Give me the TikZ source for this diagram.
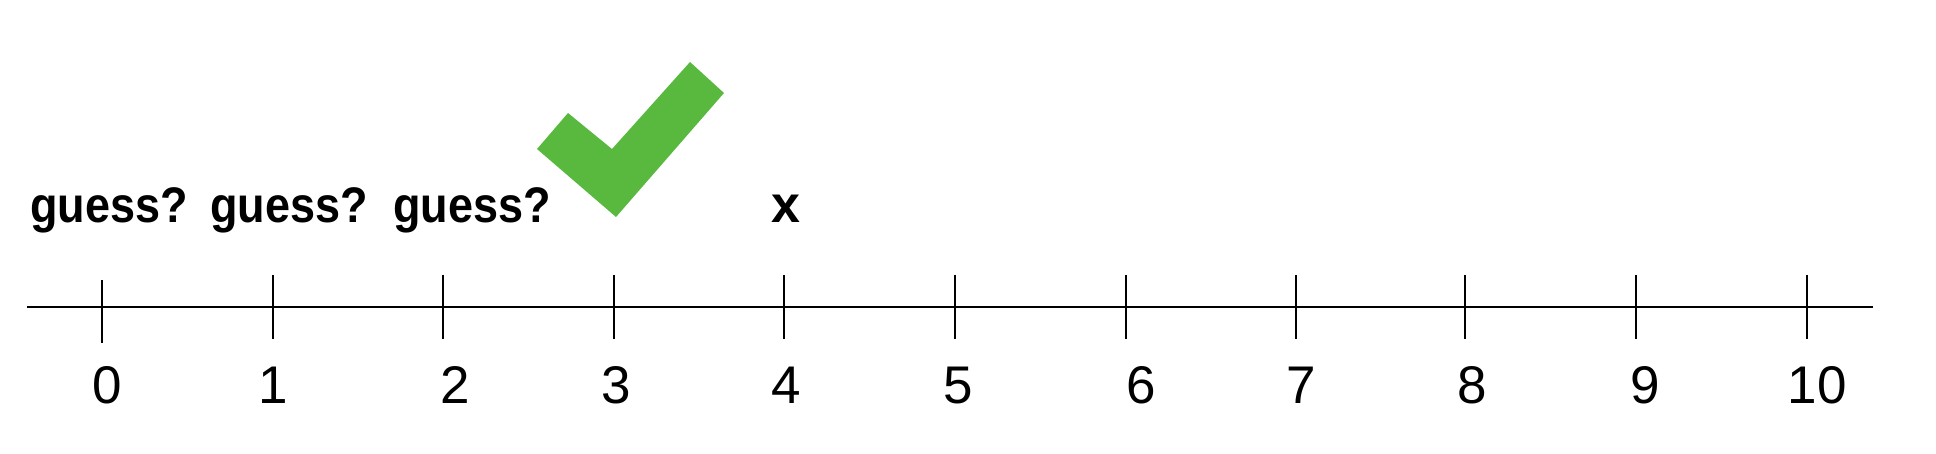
\documentclass[tikz,border=0pt]{standalone}
\usepackage{fontspec}
\setmainfont{Liberation Sans}
\definecolor{checkgreen}{HTML}{58B93E}
\tikzset{
  axisline/.style={line width=1.35pt, black},
  ticklab/.style={anchor=base, inner sep=0pt, font=\fontsize{26.5pt}{30pt}\selectfont},
  guesslab/.style={anchor=base west, inner sep=0pt, font=\bfseries\fontsize{25pt}{30pt}\selectfont},
  xlab/.style={anchor=base, inner sep=0pt, font=\bfseries\fontsize{26pt}{30pt}\selectfont},
}
\begin{document}
\begin{tikzpicture}[x=0.5pt,y=-0.5pt]
\useasboundingbox (0,0) rectangle (1936,454);
% axis
\coordinate (axL) at (27,307);
\coordinate (axR) at (1873,307);
\draw[axisline] (axL) -- (axR);
% ticks
\draw[axisline] (102,280) -- (102,343);
\foreach \xx in {273,443,614,784,955,1126,1296,1465,1636,1807}
  \draw[axisline] (\xx,275) -- (\xx,339);
% labels
\node[ticklab] (l0) at (107,403) {0};
\node[ticklab] (l1) at (273,403) {1};
\node[ticklab] (l2) at (455,403) {2};
\node[ticklab] (l3) at (616,403) {3};
\node[ticklab] (l4) at (786,403) {4};
\node[ticklab] (l5) at (958,403) {5};
\node[ticklab] (l6) at (1141,403) {6};
\node[ticklab] (l7) at (1301,403) {7};
\node[ticklab] (l8) at (1472,403) {8};
\node[ticklab] (l9) at (1645,403) {9};
\node[ticklab] (l10) at (1817,403) {10};
% guesses
\node[guesslab] (g1) at (30,222) {\scalebox{0.9}[1]{guess?}};
\node[guesslab] (g2) at (210,222) {\scalebox{0.9}[1]{guess?}};
\node[guesslab] (g3) at (393,222) {\scalebox{0.9}[1]{guess?}};
\node[xlab] (xm) at (785.5,222) {x};
% check mark
\fill[checkgreen] (568,113) -- (537,149) -- (616,217) -- (724,93) -- (690,62) -- (612,149) -- cycle;
\end{tikzpicture}
\end{document}
